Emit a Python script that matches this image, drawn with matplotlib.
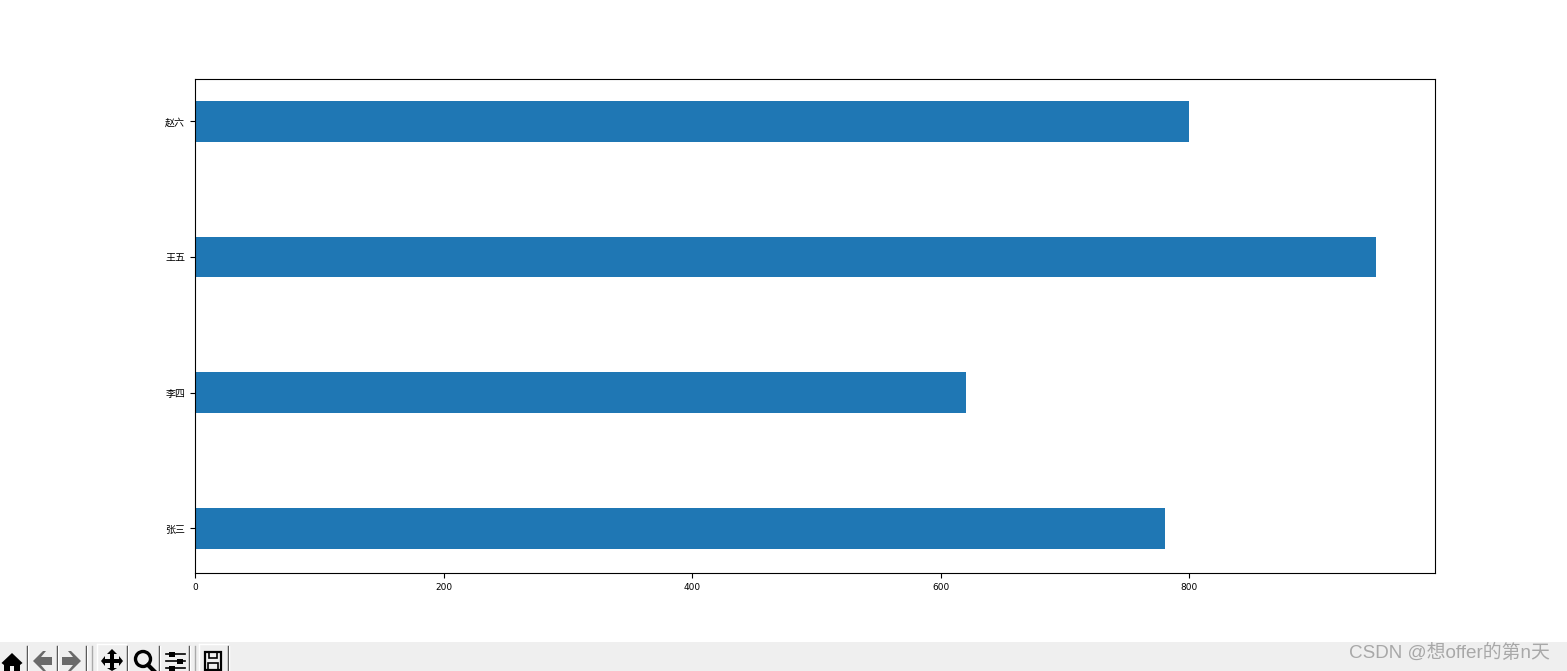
#!/usr/bin/env python3
"""Horizontal bar chart with the Tk toolbar strip and the watermark below it."""

import matplotlib

matplotlib.use("Agg")
import matplotlib.pyplot as plt
from matplotlib.patches import Circle, Polygon, Rectangle

plt.rcParams["font.family"] = ["DejaVu Sans", "Noto Sans CJK SC"]

names = ["张三", "李四", "王五", "赵六"]
scores = [780, 620, 950, 800]
xticks = [0, 200, 400, 600, 800]

W, H = 1567, 671


def draw_toolbar(fig):
    # overlay in pixel coordinates, y pointing down like the screenshot
    ax = fig.add_axes([0, 0, 1, 1], zorder=5)
    ax.set_xlim(0, W)
    ax.set_ylim(H, 0)
    ax.axis("off")
    ax.add_patch(Rectangle((0, 642), W, 29, color="#efefef", lw=0))

    # button edges: dark right side, white left side
    for x in [26.5, 56.5, 86, 127, 159, 189, 228]:
        ax.plot([x, x], [646, 671], color="#333333", lw=1)
        ax.plot([x + 1, x + 1], [646, 671], color="white", lw=1)
    for x in [97, 199]:
        ax.plot([x, x], [644, 671], color="white", lw=1)
        ax.plot([x, x + 29], [644, 644], color="white", lw=1)
    for x in [91.5, 194.5]:
        ax.plot([x, x], [646, 671], color="#aaaaaa", lw=1)

    black = "#000000"
    # home
    ax.add_patch(Polygon([(1.5, 663), (12, 653), (22.5, 663), (20, 665), (20, 671),
                          (14, 671), (14, 666), (10, 666), (10, 671), (4, 671), (4, 665)],
                         color=black, lw=0))
    # back / forward
    ax.add_patch(Polygon([(33, 661), (43, 651), (46, 651), (41, 657), (52, 657), (52, 665),
                          (41, 665), (46, 671), (43, 671)], color="#6a6a6a", lw=0))
    ax.add_patch(Polygon([(81, 661), (71, 651), (68, 651), (73, 657), (62, 657), (62, 665),
                          (73, 665), (68, 671), (71, 671)], color="#6a6a6a", lw=0))
    # pan
    ax.add_patch(Polygon([(112, 649), (117, 654), (114, 654), (114, 659), (119, 659), (119, 656),
                          (123, 661), (119, 666), (119, 663), (114, 663), (114, 668), (117, 668),
                          (112, 671), (107, 668), (110, 668), (110, 663), (105, 663), (105, 666),
                          (101, 661), (105, 656), (105, 659), (110, 659), (110, 654), (107, 654)],
                         color=black, lw=0))
    # zoom
    ax.add_patch(Circle((143, 659), 7.5, fill=False, ec=black, lw=2.4))
    ax.plot([148, 154], [665, 671], color=black, lw=3)
    # configure
    for y, xk in [(654, 172), (661, 180), (668, 172)]:
        ax.plot([166, 185], [y, y], color=black, lw=1.2)
        ax.add_patch(Rectangle((xk - 3, y - 2.5), 6, 5, color=black, lw=0))
    # save
    ax.add_patch(Rectangle((205, 652), 16, 18, fill=False, ec=black, lw=1.6))
    ax.add_patch(Rectangle((209, 652), 8, 6, fill=False, ec=black, lw=1.2))
    ax.add_patch(Rectangle((208, 663), 10, 7, fill=False, ec=black, lw=1.2))

    ax.text(1349, 652.5, "CSDN @想offer的第n天", fontsize=13.6, color="#a8a8a8",
            va="center", ha="left", family=["Liberation Sans", "Noto Sans CJK SC"])


def main():
    fig = plt.figure(figsize=(W / 100, H / 100), dpi=100)
    ax = fig.add_axes([195 / W, 1 - 573 / H, 1240 / W, 494 / H])
    ax.barh(names, scores, height=0.3, color="#1f77b4")
    ax.set_xticks(xticks)
    ax.set_ylim(-0.328, 3.313)
    ax.tick_params(axis="x", labelsize=6.5)
    ax.tick_params(axis="y", labelsize=7.2)

    draw_toolbar(fig)

    fig.savefig("out.png", dpi=100)


if __name__ == "__main__":
    main()
